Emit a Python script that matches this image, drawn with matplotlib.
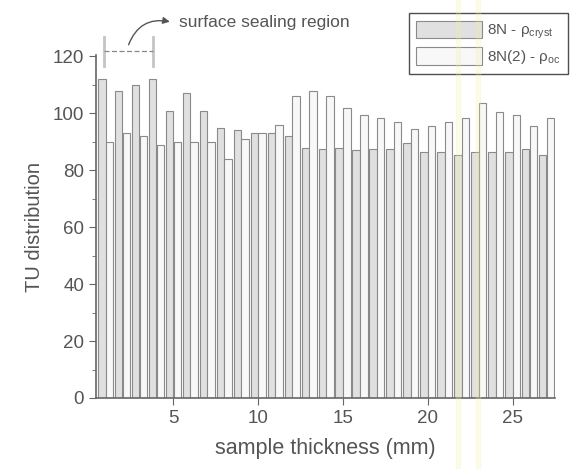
import numpy as np
import matplotlib.pyplot as plt
from matplotlib.patches import Rectangle

plt.rcParams['font.family'] = ['Liberation Sans', 'DejaVu Sans']
plt.rcParams['mathtext.default'] = 'regular'

# sample thickness positions (mm) and TU values
thickness = [1, 2, 3, 4, 5, 6, 7, 8, 9, 10, 11, 12, 13, 14, 15, 16, 17, 18,
             19, 20, 21, 22, 23, 24, 25, 26, 27]
tu_cryst = [112, 108, 110, 112, 101, 107, 101, 95, 94, 93, 93, 92, 88, 87.5,
            88, 87, 87.5, 87.5, 89.5, 86.5, 86.5, 85.5, 86.5, 86.5, 86.5, 87.5, 85.5]
tu_oc = [90, 93, 92, 89, 90, 90, 90, 84, 91, 93, 96, 106, 108, 106, 102, 99.5,
         98.5, 97, 94.5, 95.5, 97, 98.5, 103.5, 100.5, 99.5, 95.5, 98.5]
labels = ['8N - ρ$_{cryst}$', '8N(2) - ρ$_{oc}$']

txt = '#555555'
fig = plt.figure(figsize=(5.71, 4.69), dpi=100)
ax = fig.add_axes([0.168, 0.1514, 0.804, 0.7313])

x = np.array(thickness)
w = 0.44
ax.bar(x - 0.225, tu_cryst, width=w, color='#e0e0e0', edgecolor='#8a8a8a',
       linewidth=0.8, label=labels[0])
ax.bar(x + 0.225, tu_oc, width=w, color='#f8f8f8', edgecolor='#8a8a8a',
       linewidth=0.8, label=labels[1])

ax.set_xlim(0.43, 27.5)
ax.set_ylim(0, 120.5)
ax.set_xticks([5, 10, 15, 20, 25])
ax.set_yticks([0, 20, 40, 60, 80, 100, 120])
ax.set_yticks(np.arange(10, 120, 20), minor=True)

for s in ['top', 'right']:
    ax.spines[s].set_visible(False)
for s in ['left', 'bottom']:
    ax.spines[s].set_color('#666666')
    ax.spines[s].set_linewidth(1.2)
ax.tick_params(axis='both', which='major', direction='out', length=5,
               color='#666666', labelsize=13.5, labelcolor=txt)
ax.tick_params(axis='y', which='minor', direction='out', length=3, color='#666666')

ax.set_xlabel('sample thickness (mm)', fontsize=15.5, color=txt, labelpad=8)
ax.set_ylabel('TU distribution', fontsize=14.5, color=txt, labelpad=6)

# surface sealing bracket and note
for xb in [0.9, 3.78]:
    ax.plot([xb, xb], [116.8, 126.7], color='#c4c4c4', lw=2, clip_on=False)
ax.plot([0.9, 3.78], [122, 122], color='#888888', lw=0.9, ls=(0, (4, 2)),
        clip_on=False)
ax.annotate('', xy=(4.95, 132), xytext=(2.3, 123.2),
            arrowprops=dict(arrowstyle='-|>', color='#555555', lw=1.0,
                            connectionstyle='arc3,rad=-0.45'),
            annotation_clip=False)
ax.text(5.3, 132, 'surface sealing region', fontsize=12.5, color=txt,
        va='center', ha='left')

leg = ax.legend(loc='upper left', bbox_to_anchor=(0.716, 0.972),
                bbox_transform=fig.transFigure, fontsize=11, frameon=True,
                fancybox=False, edgecolor='#222222', handlelength=4.3,
                handleheight=1.4, borderpad=0.5, labelspacing=0.4,
                handletextpad=0.3, borderaxespad=0)
leg.get_frame().set_linewidth(1.0)
for t in leg.get_texts():
    t.set_color(txt)

# faint yellow streaks from the scan
for xs in [456, 476]:
    fig.patches.append(Rectangle((xs / 571, 0), 4 / 571, 1,
                                 transform=fig.transFigure,
                                 color='#f5f2a0', alpha=0.22, zorder=5))

plt.savefig('out.png', dpi=100)
